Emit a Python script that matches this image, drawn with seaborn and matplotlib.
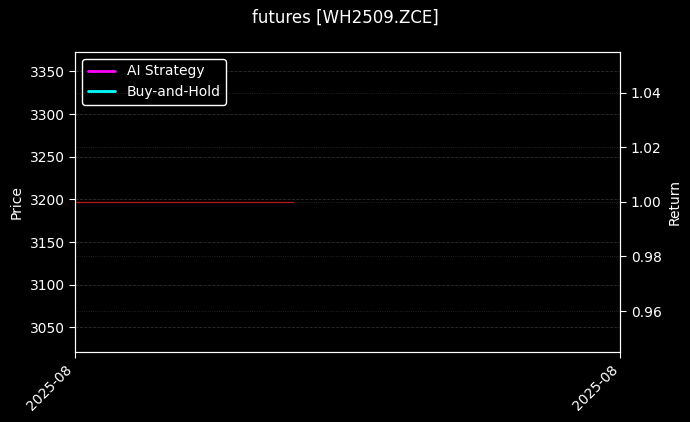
import matplotlib
matplotlib.use("Agg")
import matplotlib.pyplot as plt
import matplotlib.dates as mdates
import seaborn as sns
import pandas as pd

# data
price_dates = pd.date_range("2025-08-01", "2025-08-09", freq="D")
price = [3197, 3197, 3197, 3197, 3197, 3197, 3197, 3197, 3197]
ret_dates = pd.to_datetime(["2025-08-01"])
ai_return = [1.0]
bh_return = [1.0]

plt.style.use("dark_background")
sns.set_style("dark", {"axes.facecolor": "black", "figure.facecolor": "black",
                       "axes.edgecolor": "white", "text.color": "white",
                       "xtick.color": "white", "ytick.color": "white",
                       "axes.labelcolor": "white",
                       "xtick.bottom": True, "ytick.left": True})
plt.rcParams["font.family"] = ["DejaVu Sans"]

fig, ax = plt.subplots(figsize=(6.9, 4.22), dpi=100)
fig.patch.set_facecolor("black")
ax.set_facecolor("black")

sns.lineplot(x=price_dates, y=price, ax=ax, color="#d01010", lw=1.0, alpha=0.85, legend=False)
ax.set_ylabel("Price", color="white")
ax.grid(True, axis="y", linestyle="--", color="grey", alpha=0.35, lw=0.6)
ax.grid(False, axis="x")

ax2 = ax.twinx()
sns.lineplot(x=ret_dates, y=ai_return, ax=ax2, color="magenta", lw=2, label="AI Strategy")
sns.lineplot(x=ret_dates, y=bh_return, ax=ax2, color="cyan", lw=2, label="Buy-and-Hold")
ax2.set_ylabel("Return", color="white")
ax2.grid(True, axis="y", linestyle=":", color="grey", alpha=0.35, lw=0.6)
ax2.legend_.remove()

ax.set_xlim(pd.Timestamp("2025-08-01"), pd.Timestamp("2025-08-21"))
ax.set_xticks([pd.Timestamp("2025-08-01"), pd.Timestamp("2025-08-21")])
ax.xaxis.set_major_formatter(mdates.DateFormatter("%Y-%m"))
ax.set_xlabel("")
for lbl in ax.get_xticklabels():
    lbl.set_rotation(45)
    lbl.set_ha("right")

for a in (ax, ax2):
    for s in a.spines.values():
        s.set_color("white")
ax.tick_params(axis="x", bottom=True, colors="white", length=4)
ax.tick_params(axis="y", left=True, colors="white", length=4)
ax2.tick_params(axis="y", right=True, colors="white", length=4)

h, l = ax2.get_legend_handles_labels()
leg = ax.legend(h, l, loc="upper left", facecolor="black", edgecolor="white", framealpha=1.0)
for t in leg.get_texts():
    t.set_color("white")

fig.suptitle("futures [WH2509.ZCE]", color="white", fontsize=12)
fig.subplots_adjust(left=0.109, right=0.899, top=0.877, bottom=0.166)
fig.savefig("out.png", dpi=100, facecolor="black")
